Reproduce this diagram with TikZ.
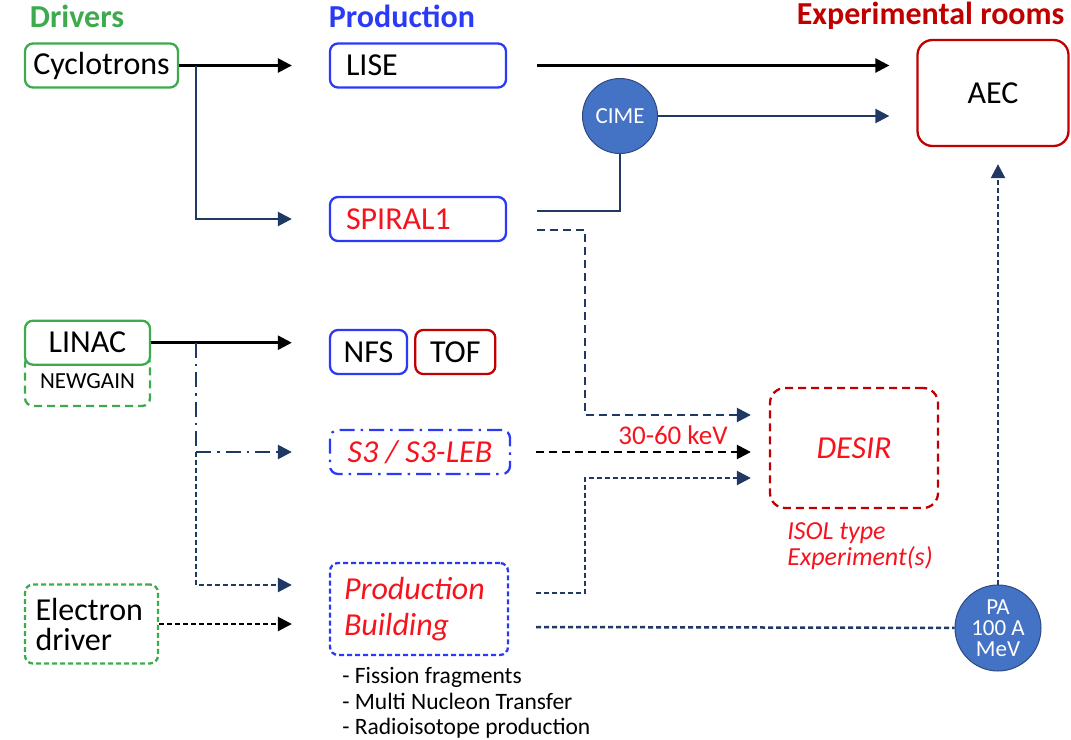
\documentclass[tikz,border=0pt]{standalone}
\usepackage{fontspec}
\setmainfont{Carlito}
\usepackage{tikz}
\usetikzlibrary{positioning}
\usetikzlibrary{arrows.meta}

\definecolor{verde}{HTML}{3DAA4E}
\definecolor{azul}{HTML}{2B3BF5}
\definecolor{rojo}{HTML}{F5141E}
\definecolor{granate}{HTML}{C00000}
\definecolor{marino}{HTML}{1F3864}
\definecolor{circulo}{HTML}{4472C4}
\definecolor{borde}{HTML}{2F4A7F}

\begin{document}
\begin{tikzpicture}[x=1pt, y=-1pt,
  tit/.style={font=\fontsize{32}{34}\selectfont\bfseries},
  caja/.style={draw, rounded corners=8pt, line width=2.3pt, minimum height=44pt,
    inner sep=0pt, font=\fontsize{32}{34}\selectfont},
  cursiva/.style={font=\fontsize{32}{36}\selectfont\itshape, text=rojo},
  rayas/.style={dash pattern=on 8pt off 5pt},
  puntos/.style={dash pattern=on 5pt off 3pt},
  rayapunto/.style={dash pattern=on 15pt off 6pt on 2.5pt off 6pt},
  linea/.style={line width=2.5pt},
  flecha/.style={-{Triangle[length=14pt,width=14pt]}, line width=2.5pt},
  circ/.style={circle, draw=borde, fill=circulo, text=white, line width=1pt,
    inner sep=0pt, align=center, font=\fontsize{23}{21}\selectfont}]
  \useasboundingbox (0,0) rectangle (1071,739);

  % Titulos
  \node[tit, text=verde] (tdrv) at (77,16) {Drivers};
  \node[tit, text=azul] (tprod) at (402,16) {Production};
  \node[tit, text=granate, anchor=east] (texp) at (1068,16) {Experimental rooms};

  % Drivers
  \node[caja, draw=verde, minimum width=153pt] (cyc) at (101.5,65.5) {Cyclotrons};
  \node[caja, draw=verde, rayas, minimum width=125pt, minimum height=50pt,
    font=\fontsize{23}{24}\selectfont] (newgain) at (87.5,381) {NEWGAIN};
  \node[caja, draw=verde, fill=white, minimum width=125pt, above=-11pt of newgain] (linac) {LINAC};
  \node[caja, draw=verde, puntos, minimum width=133pt, minimum height=79pt,
    text width=112pt, align=left, font=\fontsize{32}{30}\selectfont] (edrv) at (91.5,624) {Electron\\driver};

  % Production
  \node[caja, draw=azul, minimum width=176pt, text width=144pt, align=left] (lise) at (418,65.5) {LISE};
  \node[caja, draw=azul, minimum width=176pt, text width=144pt, align=left, text=rojo] (spiral) at (418,219) {SPIRAL1};
  \node[caja, draw=azul, minimum width=77pt] (nfs) at (368.5,352) {NFS};
  \node[caja, draw=granate, minimum width=80pt, right=6pt of nfs] (tof) {TOF};
  \node[caja, draw=azul, rayapunto, minimum width=180pt, cursiva] (s3) at (420,452) {S3 / S3-LEB};
  \node[caja, draw=azul, puntos, minimum width=178pt, minimum height=92pt, text width=150pt,
    align=left, cursiva] (pb) at (419,609) {Production\\Building};
  \node[below right=8pt and 10pt of pb.south west, align=left,
    font=\fontsize{23.5}{25.5}\selectfont] (lista)
    {- Fission fragments\\- Multi Nucleon Transfer\\- Radioisotope production};

  % Experimental rooms
  \node[caja, draw=granate, rounded corners=15pt, minimum width=151pt, minimum height=106pt] (aec) at (993,93) {AEC};
  \node[caja, draw=granate, rayas, rounded corners=15pt, minimum width=168pt,
    minimum height=120pt, cursiva] (desir) at (854,448) {DESIR};
  \node[below right=10pt and 15pt of desir.south west, align=left,
    font=\fontsize{26}{26}\selectfont\itshape, text=rojo] (isol) {ISOL type\\Experiment(s)};
  \node[text=rojo, font=\fontsize{27}{28}\selectfont] (kev) at (673,435) {30-60 keV};

  % Aceleradores
  \node[circ, minimum size=75pt] (cime) at (620,116) {CIME};
  \node[circ, minimum size=86pt] (pa) at (998,628) {PA\\100 A\\MeV};

  % Puntos de quiebre
  \coordinate (bcyc) at (196,65.5);
  \coordinate (blin) at (bcyc |- linac.east);
  \coordinate (cdes1) at (585,415);
  \coordinate (cdes3) at (585,478);

  % Conexiones desde los ciclotrones
  \draw[flecha, shorten >=37pt] (cyc) -- (lise);
  \draw[flecha, marino, shorten >=37pt] (bcyc) |- (spiral);
  \draw[flecha, shorten <=30pt, shorten >=27pt] (lise.east) -- (lise.east -| aec.west);
  \draw[linea, marino] ([xshift=30pt,yshift=8pt]spiral.east) -| (cime);
  \draw[flecha, marino, shorten >=27pt] (cime) -- (cime -| aec.west);
  \draw[flecha, marino, rayas, shorten >=18pt] ([xshift=30pt,yshift=-11pt]spiral.east) -| (cdes1) -- (cdes1 -| desir.west);

  % Conexiones desde el LINAC
  \draw[flecha, shorten >=37pt] (linac) -- (linac -| nfs.west);
  \draw[linea, marino, rayapunto] (blin) -- (blin |- s3);
  \draw[flecha, marino, rayapunto, shorten >=37pt] (blin |- s3) -- (s3);
  \draw[flecha, marino, puntos, shorten >=37pt] (blin |- s3) |- ([yshift=24pt]pb.west);
  \draw[flecha, rayas, shorten <=25pt, shorten >=18pt] (s3) -- (s3 -| desir.west);

  % Conexiones del edificio de produccion
  \draw[flecha, puntos, shorten >=37pt] (edrv) -- (edrv -| pb.west);
  \draw[linea, marino, puntos] ([xshift=27pt,yshift=-18pt]pb.east) -- (pa);
  \draw[flecha, marino, puntos, shorten >=18pt] ([xshift=27pt,yshift=16pt]pb.east) -| (cdes3) -- (cdes3 -| desir.west);
  \draw[flecha, marino, puntos, shorten >=17pt] (pa) -- (pa |- aec.south);
\end{tikzpicture}
\end{document}
